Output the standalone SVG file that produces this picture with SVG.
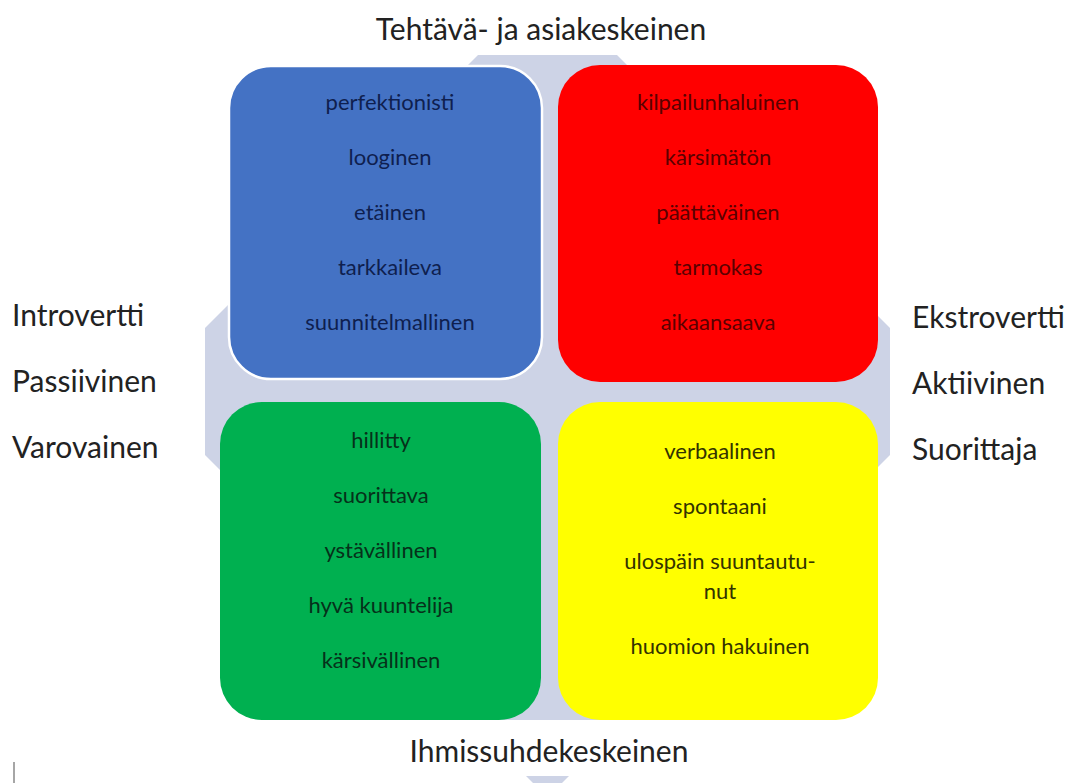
<svg xmlns="http://www.w3.org/2000/svg" width="1073" height="783" viewBox="0 0 1073 783">
<style>
text{font-family:Lato,"Open Sans","Liberation Sans",sans-serif;}
.lbl{font-size:30px;fill:#222;}
.it{font-size:22px;text-anchor:middle;}
.b{fill:#0f1f4f;}
.r{fill:#5a0000;}
.g{fill:#06301a;}
.y{fill:#333300;}
.box{stroke:none;fill:#fff;}
</style>
<rect width="1073" height="783" fill="#fff"/>
<g id="background">
<polygon points="547.5,-14.5 953.5,391.5 547.5,797.5 141.5,391.5" fill="#cdd3e6"/>
<rect class="box" x="0" y="0" width="1073" height="55"/>
<rect class="box" x="300" y="720" width="500" height="56"/>
<rect class="box" x="0" y="55" width="205" height="700"/>
<rect class="box" x="890" y="55" width="183" height="700"/>
</g>
<g id="connectors"></g>
<g id="q-blue">
<rect x="229" y="66" width="313" height="313" rx="42" fill="#4472c4" stroke="#fff" stroke-width="2.5"/>
<text class="it b" x="390" y="110">perfektionisti</text>
<text class="it b" x="390" y="165">looginen</text>
<text class="it b" x="390" y="220">etäinen</text>
<text class="it b" x="390" y="275">tarkkaileva</text>
<text class="it b" x="390" y="330">suunnitelmallinen</text>
</g>
<g id="q-red">
<rect x="558" y="65" width="320" height="317" rx="42" fill="#ff0000"/>
<text class="it r" x="718" y="110">kilpailunhaluinen</text>
<text class="it r" x="718" y="165">kärsimätön</text>
<text class="it r" x="718" y="220">päättäväinen</text>
<text class="it r" x="718" y="275">tarmokas</text>
<text class="it r" x="718" y="330">aikaansaava</text>
</g>
<g id="q-green">
<rect x="220" y="402" width="321" height="318" rx="42" fill="#00b050"/>
<text class="it g" x="381" y="448">hillitty</text>
<text class="it g" x="381" y="503">suorittava</text>
<text class="it g" x="381" y="558">ystävällinen</text>
<text class="it g" x="381" y="613">hyvä kuuntelija</text>
<text class="it g" x="381" y="668">kärsivällinen</text>
</g>
<g id="q-yellow">
<rect x="558" y="402" width="320" height="318" rx="42" fill="#ffff00"/>
<text class="it y" x="720" y="459">verbaalinen</text>
<text class="it y" x="720" y="514">spontaani</text>
<text class="it y" x="720" y="569">ulospäin suuntautu-</text>
<text class="it y" x="720" y="599">nut</text>
<text class="it y" x="720" y="654">huomion hakuinen</text>
</g>
<g id="labels">
<text class="lbl" x="541" y="40" text-anchor="middle">Tehtävä- ja asiakeskeinen</text>
<text class="lbl" x="549" y="762" text-anchor="middle">Ihmissuhdekeskeinen</text>
<text class="lbl" x="12" y="326">Introvertti</text>
<text class="lbl" x="12" y="392">Passiivinen</text>
<text class="lbl" x="12" y="458">Varovainen</text>
<text class="lbl" x="912" y="328">Ekstrovertti</text>
<text class="lbl" x="912" y="394">Aktiivinen</text>
<text class="lbl" x="912" y="460">Suorittaja</text>
</g>
<line x1="14" y1="762" x2="14" y2="783" stroke="#888" stroke-width="1.5"/>
</svg>
